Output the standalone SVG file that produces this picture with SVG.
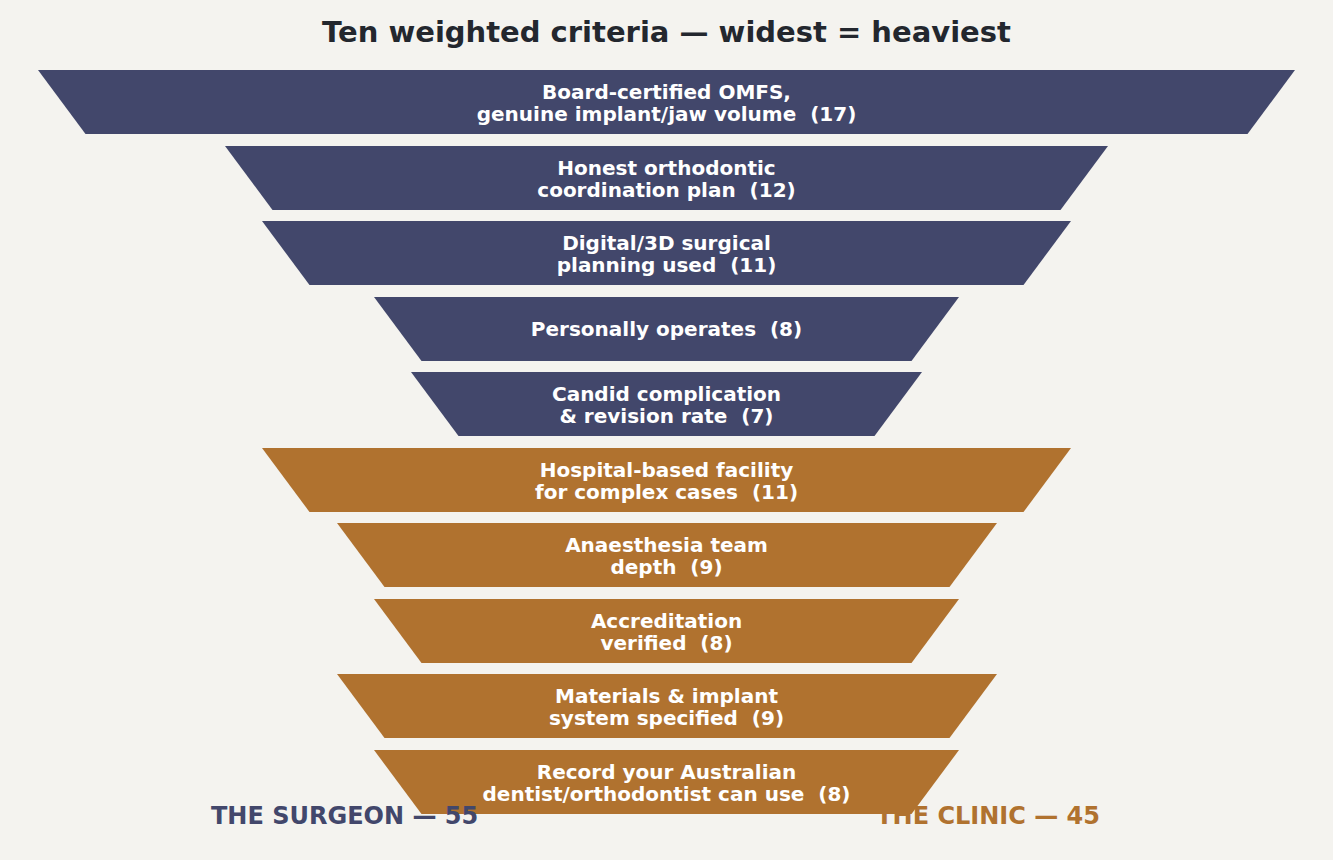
<svg xmlns="http://www.w3.org/2000/svg" width="1333" height="860" viewBox="0 0 1333 860">
<style>
.bg{fill:#f4f3ef}
.s{fill:#42476b}
.c{fill:#b0722f}
.t{font-family:"DejaVu Sans",sans-serif;font-weight:bold;font-size:20px;fill:#ffffff;text-anchor:middle;white-space:pre}
.title{font-family:"DejaVu Sans",sans-serif;font-weight:bold;font-size:29px;fill:#23272e;text-anchor:middle}
.lab{font-family:"DejaVu Sans",sans-serif;font-weight:bold;font-size:24px}
</style>
<rect class="bg" x="0" y="0" width="1333" height="860"/>
<text class="title" x="666.5" y="42">Ten weighted criteria — widest = heaviest</text>
<text id="label-clinic" class="lab" x="1100" y="824" text-anchor="end" fill="#b0722f">THE CLINIC — 45</text>
<g id="n1"><polygon class="s" points="38,70 1295,70 1247.5,134 85.5,134"/><text class="t" x="666.5" y="99">Board-certified OMFS,</text><text class="t" x="666.5" y="121">genuine implant/jaw volume  (17)</text></g>
<g id="n2"><polygon class="s" points="225,146 1108,146 1060.5,210 272.5,210"/><text class="t" x="666.5" y="175">Honest orthodontic</text><text class="t" x="666.5" y="197">coordination plan  (12)</text></g>
<g id="n3"><polygon class="s" points="262,221 1071,221 1023.5,285 309.5,285"/><text class="t" x="666.5" y="250">Digital/3D surgical</text><text class="t" x="666.5" y="272">planning used  (11)</text></g>
<g id="n4"><polygon class="s" points="374,297 959,297 911.5,361 421.5,361"/><text class="t" x="666.5" y="336">Personally operates  (8)</text></g>
<g id="n5"><polygon class="s" points="411,372 922,372 874.5,436 458.5,436"/><text class="t" x="666.5" y="401">Candid complication</text><text class="t" x="666.5" y="423">&amp; revision rate  (7)</text></g>
<g id="n6"><polygon class="c" points="262,448 1071,448 1023.5,512 309.5,512"/><text class="t" x="666.5" y="477">Hospital-based facility</text><text class="t" x="666.5" y="499">for complex cases  (11)</text></g>
<g id="n7"><polygon class="c" points="337,523 997,523 949.5,587 384.5,587"/><text class="t" x="666.5" y="552">Anaesthesia team</text><text class="t" x="666.5" y="574">depth  (9)</text></g>
<g id="n8"><polygon class="c" points="374,599 959,599 911.5,663 421.5,663"/><text class="t" x="666.5" y="628">Accreditation</text><text class="t" x="666.5" y="650">verified  (8)</text></g>
<g id="n9"><polygon class="c" points="337,674 997,674 949.5,738 384.5,738"/><text class="t" x="666.5" y="703">Materials &amp; implant</text><text class="t" x="666.5" y="725">system specified  (9)</text></g>
<g id="n10"><polygon class="c" points="374,750 959,750 911.5,814 421.5,814"/><text class="t" x="666.5" y="779">Record your Australian</text><text class="t" x="666.5" y="801">dentist/orthodontist can use  (8)</text></g>
<g id="connectors"></g>
<text id="label-surgeon" class="lab" x="211" y="824" fill="#42476b">THE SURGEON — 55</text>
</svg>
